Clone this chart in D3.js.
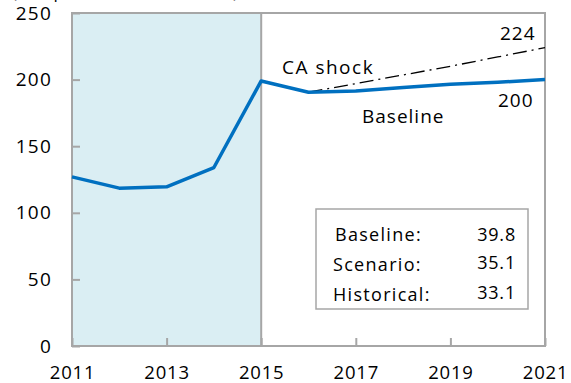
<!DOCTYPE html>
<html>
<head>
<meta charset="utf-8">
<script src="https://cdn.jsdelivr.net/npm/d3@7"></script>
<style>
  html, body { margin: 0; padding: 0; background: #fff; }
  svg { display: block; font-family: "Open Sans", "Noto Sans", sans-serif; }
</style>
</head>
<body>
<svg id="chart" width="571" height="383"></svg>
<script>
// Debt path: historical + baseline projection, and the current-account shock scenario
const years = [2011, 2012, 2013, 2014, 2015, 2016, 2017, 2018, 2019, 2020, 2021];
const baseline = [127, 118.5, 119.5, 134, 199, 190.5, 191.5, 194, 196.5, 198, 200];
const shockYears = [2016, 2017, 2018, 2019, 2020, 2021];
const caShock = [190.5, 197, 203.5, 210, 217, 224];
const yTicks = [0, 50, 100, 150, 200, 250];
const xTicks = [2011, 2013, 2015, 2017, 2019, 2021];
const histEnd = 2015;
const boxLabels = ["Baseline:", "Scenario:", "Historical:"];
const boxValues = ["39.8", "35.1", "33.1"];

const svg = d3.select("#chart");
const m = { left: 72, right: 26, top: 13, bottom: 37 };
const W = 571, H = 383;

const x = d3.scaleLinear().domain([2011, 2021]).range([m.left, W - m.right]);
const y = d3.scaleLinear().domain([0, 250]).range([H - m.bottom, m.top]);

const axisColor = "#a6a6a6";
const fontFam = "Open Sans, Noto Sans, sans-serif";

// Unit note, mostly above the top edge
svg.append("text")
  .attr("x", 12).attr("y", -2)
  .attr("font-size", 17)
  .attr("fill", "#000")
  .attr("textLength", 226)
  .text("(In percent of GDP)");

// Historical period shading
svg.append("rect")
  .attr("x", x(2011)).attr("y", y(250))
  .attr("width", x(histEnd) - x(2011))
  .attr("height", y(0) - y(250))
  .attr("fill", "#daeef3");

// Frame
svg.append("rect")
  .attr("x", x(2011)).attr("y", y(250))
  .attr("width", x(2021) - x(2011))
  .attr("height", y(0) - y(250))
  .attr("fill", "none")
  .attr("stroke", axisColor)
  .attr("stroke-width", 2);

// Divider at end of history
svg.append("line")
  .attr("x1", x(histEnd)).attr("x2", x(histEnd))
  .attr("y1", y(250)).attr("y2", y(0))
  .attr("stroke", axisColor).attr("stroke-width", 2);

// Y axis (ticks pointing inward)
const yAxis = d3.axisLeft(y).tickValues(yTicks).tickSize(-8).tickPadding(20).tickFormat(d3.format("d"));
const gy = svg.append("g").attr("transform", `translate(${x(2011)},0)`).call(yAxis);
gy.select(".domain").remove();
gy.selectAll(".tick line").attr("stroke", axisColor).attr("stroke-width", 2);
gy.selectAll(".tick text").attr("font-size", 19).attr("fill", "#000")
  .attr("letter-spacing", 1.2).attr("font-family", fontFam);

// X axis (ticks pointing inward)
const xAxis = d3.axisBottom(x).tickValues(xTicks).tickSize(-8).tickPadding(20).tickFormat(d3.format("d"));
const gx = svg.append("g").attr("transform", `translate(0,${y(0)})`).call(xAxis);
gx.select(".domain").remove();
gx.selectAll(".tick line").attr("stroke", axisColor).attr("stroke-width", 2);
gx.selectAll(".tick text").attr("font-size", 18.5).attr("fill", "#000")
  .attr("letter-spacing", 0.8).attr("font-family", fontFam);

// CA shock scenario
svg.append("path")
  .datum(shockYears.map((yr, i) => [yr, caShock[i]]))
  .attr("fill", "none")
  .attr("stroke", "#000")
  .attr("stroke-width", 1.3)
  .attr("stroke-dasharray", "14,5,2,5")
  .attr("d", d3.line().x(d => x(d[0])).y(d => y(d[1])));

// Baseline
svg.append("path")
  .datum(years.map((yr, i) => [yr, baseline[i]]))
  .attr("fill", "none")
  .attr("stroke", "#0070c0")
  .attr("stroke-width", 3.5)
  .attr("stroke-linejoin", "round")
  .attr("d", d3.line().x(d => x(d[0])).y(d => y(d[1])));

// Line annotations
const ann = svg.append("g").attr("font-size", 19).attr("fill", "#000").attr("letter-spacing", 1);
ann.append("text").attr("x", 282).attr("y", 74).attr("letter-spacing", 1.5).text("CA shock");
ann.append("text").attr("x", x(2021) - 45).attr("y", 40).text(caShock[caShock.length - 1]);
ann.append("text").attr("x", x(2021) - 47).attr("y", 107).text(baseline[baseline.length - 1]);
ann.append("text").attr("x", 362).attr("y", 123).text("Baseline");

// Summary box
const box = svg.append("g");
box.append("rect")
  .attr("x", 316).attr("y", 209).attr("width", 212).attr("height", 100)
  .attr("fill", "#fff").attr("stroke", axisColor).attr("stroke-width", 1.5);
boxLabels.forEach((lab, i) => {
  box.append("text").attr("x", i === 0 ? 335 : 333).attr("y", 241 + i * 30)
    .attr("font-size", 18).attr("letter-spacing", 1.3).text(lab);
  box.append("text").attr("x", 516).attr("y", 241 + i * 30 - (i > 0 ? 2 : 0))
    .attr("font-size", 18).attr("letter-spacing", 0.8).attr("text-anchor", "end").text(boxValues[i]);
});
</script>
</body>
</html>
